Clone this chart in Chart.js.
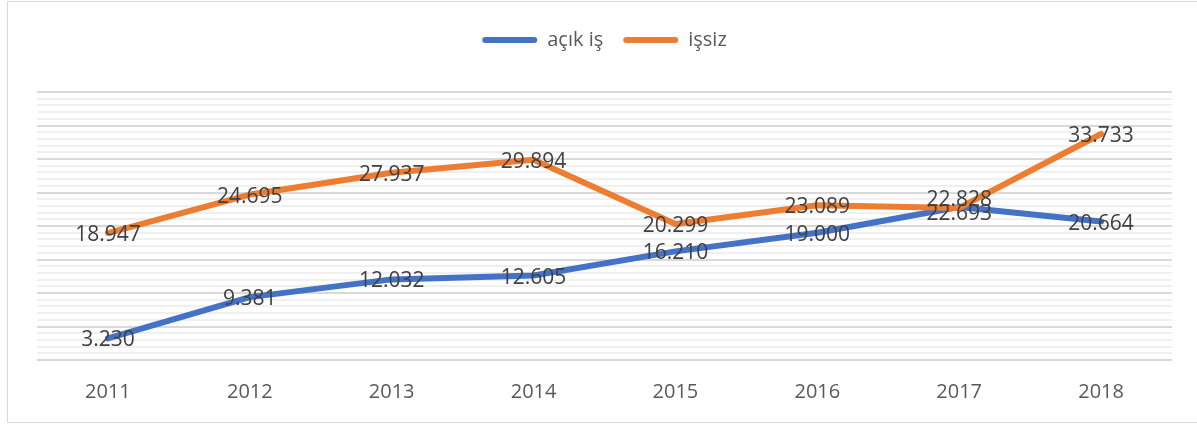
<!DOCTYPE html>
<html lang="tr">
<head>
<meta charset="UTF-8">
<title>açık iş / işsiz</title>
<script src="https://cdn.jsdelivr.net/npm/chart.js"></script>
<style>
  body {
    margin: 0;
    padding: 0;
    background: #ffffff;
    overflow: hidden;
  }
  .frame {
    position: absolute;
    left: 7px;
    top: 1px;
    width: 1200px;
    height: 420px;
    border: 1px solid #d9d9d9;
  }
  .wrap {
    position: absolute;
    left: 0;
    top: 0;
    width: 1197px;
    height: 424px;
  }
</style>
</head>
<body>
<div class="frame"></div>
<div class="wrap">
  <canvas id="chart" width="1197" height="424"></canvas>
</div>

<script>
// data
var years = ['2011', '2012', '2013', '2014', '2015', '2016', '2017', '2018'];
var acikIs = [3.230, 9.381, 12.032, 12.605, 16.210, 19.000, 22.828, 20.664];
var issiz = [18.947, 24.695, 27.937, 29.894, 20.299, 23.089, 22.693, 33.733];

var blue = '#4472C4';
var orange = '#ED7D31';

// small vertical nudge for the two overlapping labels at 2017
var labelNudge = [
  [0, 0, 0, 0, 0, 0, -9, 0],
  [0, 0, 0, 0, 0, 0, 4, 0]
];

var legendMargin = {
  id: 'legendMargin',
  beforeInit: function(chart) {
    var fit = chart.legend.fit;
    chart.legend.fit = function() {
      fit.bind(chart.legend)();
      this.height += 32;
    };
  }
};

var valueLabels = {
  id: 'valueLabels',
  afterDatasetsDraw: function(chart) {
    var ctx = chart.ctx;
    ctx.save();
    ctx.font = '21px "Open Sans", sans-serif';
    ctx.fillStyle = '#404040';
    ctx.textAlign = 'center';
    ctx.textBaseline = 'middle';
    chart.data.datasets.forEach(function(ds, i) {
      var meta = chart.getDatasetMeta(i);
      meta.data.forEach(function(pt, j) {
        ctx.fillText(ds.data[j].toFixed(3), pt.x, pt.y + 2 + labelNudge[i][j]);
      });
    });
    ctx.restore();
  }
};

var ctx = document.getElementById('chart').getContext('2d');
var chart = new Chart(ctx, {
  type: 'line',
  data: {
    labels: years,
    datasets: [{
      label: 'açık iş',
      data: acikIs,
      borderColor: blue,
      backgroundColor: blue,
      borderWidth: 6,
      pointRadius: 0,
      borderCapStyle: 'round',
      borderJoinStyle: 'round',
      order: 1
    }, {
      label: 'işsiz',
      data: issiz,
      borderColor: orange,
      backgroundColor: orange,
      borderWidth: 6,
      pointRadius: 0,
      borderCapStyle: 'round',
      borderJoinStyle: 'round',
      order: 0
    }]
  },
  options: {
    responsive: false,
    animation: false,
    layout: {
      padding: { left: 37, right: 25, top: 10, bottom: 0 }
    },
    plugins: {
      tooltip: { enabled: false },
      legend: {
        position: 'top',
        labels: {
          color: '#595959',
          font: { family: '"Open Sans", sans-serif', size: 20 },
          boxWidth: 55,
          boxHeight: 6,
          padding: 20,
          useBorderRadius: true,
          borderRadius: 3,
          sort: function(a, b) { return a.datasetIndex - b.datasetIndex; },
          generateLabels: function(chart) {
            var items = Chart.defaults.plugins.legend.labels.generateLabels(chart);
            items.forEach(function(it) { it.lineWidth = 0; });
            return items;
          }
        }
      }
    },
    scales: {
      x: {
        offset: true,
        grid: { display: false, drawTicks: false },
        border: { display: false },
        ticks: {
          color: '#595959',
          font: { family: '"Open Sans", sans-serif', size: 20 },
          padding: 20
        }
      },
      y: {
        min: 0,
        max: 40,
        border: { display: false },
        grid: {
          drawTicks: false,
          lineWidth: 2,
          color: function(c) {
            return c.tick.value % 5 === 0 ? '#d9d9d9' : '#f0f0f0';
          }
        },
        ticks: { display: false, stepSize: 1 }
      }
    }
  },
  plugins: [legendMargin, valueLabels]
});
</script>
</body>
</html>
